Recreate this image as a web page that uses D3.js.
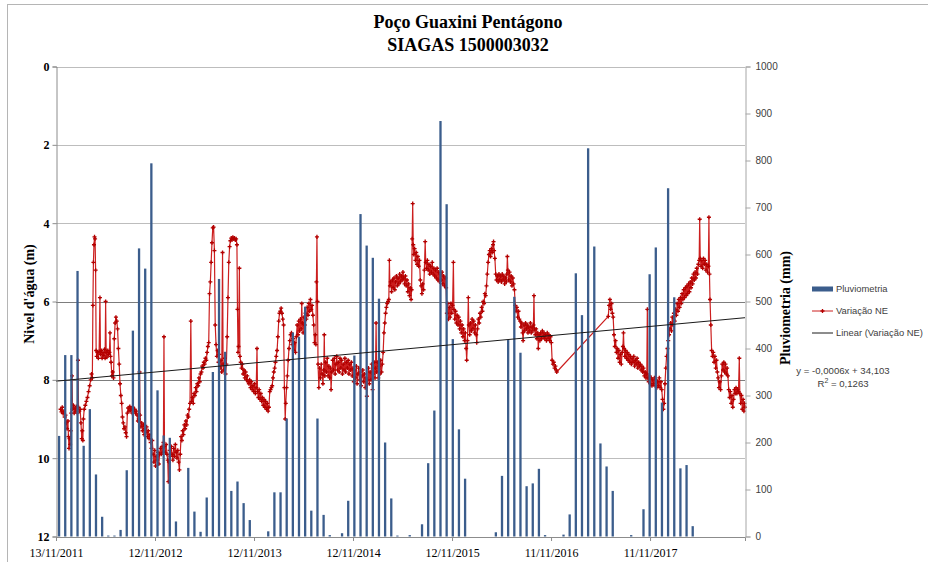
<!DOCTYPE html>
<html>
<head>
<meta charset="utf-8">
<script src="https://cdn.jsdelivr.net/npm/d3@7"></script>
<style>
  body { margin: 0; background: #fff; }
  svg { display: block; }
</style>
</head>
<body>
<svg id="chart" width="928" height="562"></svg>
<script>
// ---- Chart texts ----
const titleLines = ["Poço Guaxini Pentágono", "SIAGAS 1500003032"];
const leftAxisTitle = "Nivel d'água (m)";
const rightAxisTitle = "Pluviometria (mm)";
const legendLabels = ["Pluviometria", "Variação NE", "Linear (Variação NE)"];

// ---- Axis ticks ----
const startDateLabel = "13/11/2011";
const dateTickLabels = ["13/11/2011", "12/11/2012", "12/11/2013", "12/11/2014",
                        "12/11/2015", "11/11/2016", "11/11/2017"];
const spanDays = 2540;                      // length of the time axis in days
const levelTicks = [0, 2, 4, 6, 8, 10, 12];   // m (reversed axis)
const rainTicks = [0, 100, 200, 300, 400, 500, 600, 700, 800, 900, 1000];

// ---- Pluviometria (mm), one bar per slot ----
const rainSlots = 112;
const pluviometria = [
  214, 386, 386, 565, 193, 271, 132, 42, 2, 2,
  14, 141, 438, 613, 570, 794, 311, 215, 210, 32,
  0, 146, 53, 10, 83, 350, 548, 393, 97, 117,
  71, 35, 0, 0, 11, 94, 94, 251, 434, 425,
  489, 55, 251, 46, 3, 0, 7, 76, 385, 686,
  619, 593, 506, 200, 81, 2, 0, 3, 0, 26,
  156, 268, 884, 707, 420, 228, 123, 0, 0, 0,
  0, 9, 129, 418, 510, 391, 107, 113, 144, 3,
  0, 0, 4, 47, 560, 471, 826, 617, 198, 149,
  97, 0, 0, 3, 0, 58, 558, 615, 285, 741,
  509, 145, 152, 22
];

// ---- Variação NE: [days after 13/11/2011, water level (m)] ----
const nivel = [
  [17,8.75],[20,8.82],[23,8.70],[26,8.86],[29,8.80],[32,8.95],[35,8.90],[38,9.10],[41,9.25],[44,9.05],
  [46,9.45],[48,9.75],[50,9.50],[52,9.65],[54,9.30],[56,8.85],[59,7.90],[61,8.75],[64,8.65],[67,8.85],
  [70,8.72],[73,8.80],[76,8.68],[79,8.85],[81,7.50],[83,8.70],[86,8.80],[89,8.75],[92,9.10],[95,9.50],
  [97,9.30],[99,9.55],[101,9.00],[104,8.75],[108,8.65],[112,8.55],[116,8.45],[120,8.30],[124,8.15],[128,8.00],
  [131,7.85],[134,7.95],[136,6.10],[138,5.00],[140,4.55],[142,4.35],[144,4.40],[146,5.20],[148,7.25],
  [150,7.40],[153,7.30],[156,7.45],[159,7.28],[162,5.90],[164,7.35],[167,7.25],[170,7.45],[173,7.30],[176,7.38],
  [179,7.22],[181,7.45],[183,6.00],[185,7.30],[188,7.42],[191,7.25],[194,7.35],[197,7.30],[199,6.80],[201,7.40],
  [203,7.55],[206,7.90],[209,7.80],[212,7.95],[215,6.95],[218,6.55],[221,6.40],[224,6.50],[227,6.70],[230,7.20],
  [233,7.60],[236,8.10],[239,8.40],[242,8.60],[245,8.95],[248,9.10],[251,9.25],[254,9.20],[257,9.35],[260,9.45],
  [263,8.85],[266,8.72],[269,8.80],[272,8.68],[275,8.78],[278,8.72],[281,8.85],[284,8.70],[287,8.80],[290,8.75],
  [293,8.85],[296,8.80],[299,8.90],[302,9.05],
  [305,9.00],[308,7.80],[310,8.90],[313,9.20],[316,9.10],[319,9.30],[322,9.15],[325,9.40],[328,9.25],[331,9.35],
  [334,9.20],[337,9.45],[340,9.30],[343,9.50],[346,9.40],[349,9.60],[352,9.75],[355,9.55],[358,9.90],[361,10.10],
  [364,9.80],[367,10.20],[370,9.95],[373,10.05],[376,9.85],[379,10.15],[382,9.90],[385,9.75],[388,9.90],[391,9.70],
  [394,9.85],[396,9.60],[398,6.90],[400,9.70],[403,9.85],[406,9.65],[409,9.90],[412,10.05],[414,10.60],[416,10.10],
  [419,9.80],[422,9.95],[425,9.70],[428,9.90],[431,10.05],[434,9.75],[437,9.95],[440,9.65],[443,9.85],[446,10.00],
  [449,9.80],[452,10.10],[455,10.30],[458,9.90],[461,9.45],[464,9.55],[467,9.30],[470,9.40],[473,9.15],[476,9.25],
  [479,9.05],[482,9.15],[485,8.90],[488,8.95],[491,8.75],[494,8.60],[497,6.50],[500,8.55],
  [503,8.45],[506,8.60],[509,8.35],[512,8.40],[515,8.20],[518,8.30],[521,8.10],[524,8.15],[527,7.95],[530,8.05],
  [533,7.85],[536,7.80],[539,7.65],[542,7.70],[545,7.55],[548,7.60],[551,7.45],[554,7.50],[557,7.30],[560,7.15],
  [563,7.05],[566,5.80],[569,5.50],[572,5.00],[575,4.50],[578,4.12],[581,4.10],[584,4.70],[587,6.60],
  [590,7.10],[593,7.40],[596,7.25],[599,7.55],[602,7.35],[605,7.70],[608,7.50],[611,7.80],[614,4.75],[616,7.60],
  [619,7.75],[622,7.45],[625,7.85],[628,7.60],[631,6.90],[634,5.90],[637,5.00],[640,4.60],[643,4.45],[646,4.38],
  [649,4.42],[652,4.36],[655,4.40],[658,4.38],[661,4.43],[664,4.40],[667,4.55],[669,6.20],[671,7.30],[673,7.15],
  [676,5.15],[678,7.40],
  [681,7.55],[684,7.70],[687,7.60],[690,7.85],[693,7.75],[696,7.95],[699,7.80],[702,8.00],[705,7.90],[708,8.05],
  [711,8.10],[714,8.00],[717,8.20],[720,8.05],[723,8.25],[726,8.15],[729,8.30],[732,8.10],[735,8.35],[738,8.20],
  [741,7.20],[743,8.30],[746,8.45],[749,8.25],[752,8.50],[755,8.35],[758,8.55],[761,8.45],[764,8.65],[767,8.50],
  [770,8.70],[773,8.55],[776,8.75],[779,8.60],[782,8.80],[785,8.70],[788,8.30],[791,8.25],[794,8.20],[797,8.15],
  [800,7.95],[803,7.80],[806,7.70],[809,7.55],[812,7.40],[815,7.25],[818,6.90],[821,6.50],[824,6.30],[827,6.25],
  [830,6.17],[833,6.30],[836,6.45],[839,6.60],[842,8.20],[845,9.00],[847,8.60],[850,8.20],[853,7.90],[856,7.50],
  [859,7.20],[862,7.00],[865,6.85],[868,6.80],
  [871,7.10],[874,6.95],[877,7.25],[880,7.05],[883,7.30],[886,6.90],[889,6.60],[892,6.85],[895,6.50],[898,6.75],
  [901,6.45],[904,6.70],[906,6.05],[908,6.55],[911,6.80],[914,6.40],[917,6.60],[920,6.30],[923,6.45],[926,6.15],
  [929,6.35],[932,6.05],[935,6.25],[938,5.95],[941,6.20],[944,6.10],[947,6.35],[950,6.60],[953,7.05],[956,6.85],
  [958,7.10],[960,5.50],[962,4.35],[964,6.00],[966,7.60],
  [969,8.20],[972,7.70],[975,7.95],[978,7.60],[981,7.85],[984,8.10],[987,7.75],[989,6.85],[991,7.90],[994,7.55],
  [997,7.80],[1000,7.45],[1003,7.90],[1006,7.65],[1009,7.95],[1012,7.70],[1014,8.25],[1017,7.80],[1020,7.50],[1023,7.75],
  [1026,7.45],[1029,7.85],[1032,7.60],[1035,7.40],[1038,7.75],[1041,7.55],[1044,7.80],[1047,7.45],[1050,7.70],[1053,7.50],
  [1056,7.85],[1059,7.60],[1062,7.75],[1065,7.45],[1068,7.80],[1071,7.55],[1074,7.70],[1077,7.50],[1080,7.85],[1083,7.60],
  [1086,7.75],[1089,7.55],[1092,7.90],[1095,7.70],[1098,8.05],[1101,7.75],[1104,7.95],[1107,7.65],[1110,8.10],[1113,7.85],
  [1116,7.70],[1119,8.00],[1122,7.80],[1125,8.15],[1128,7.90],[1131,7.75],[1134,8.05],[1137,7.85],[1140,8.20],[1143,7.95],
  [1146,8.42],[1149,8.00],[1152,7.70],[1155,8.10],[1158,7.80],[1161,8.00],[1164,7.60],[1167,8.25],[1170,7.85],[1173,7.55],
  [1176,7.95],[1178,7.70],[1180,6.55],[1182,7.80],[1185,7.55],[1188,7.95],[1191,7.65],[1194,7.85],[1197,7.50],[1200,7.80],
  [1203,7.60],[1206,7.30],[1209,6.80],[1212,6.55],[1215,6.30],[1218,6.15],[1221,6.05],[1224,6.00],[1227,5.95],[1229,4.95],
  [1231,5.60],
  [1234,5.50],[1237,5.75],[1240,5.45],[1243,5.65],[1246,5.40],[1249,5.70],[1252,5.50],[1255,5.35],[1258,5.60],[1261,5.40],
  [1264,5.55],[1267,5.30],[1270,5.50],[1273,5.35],[1276,5.45],[1279,5.25],[1282,5.40],[1285,5.55],[1288,5.35],[1291,5.60],
  [1294,5.45],[1297,5.75],[1300,5.55],[1303,5.85],[1306,5.65],[1309,5.95],[1311,5.70],[1313,4.40],[1315,3.50],[1317,4.55],
  [1319,4.80],[1322,4.65],[1325,4.95],[1328,4.75],[1331,5.05],[1334,4.85],[1337,5.10],[1340,4.95],[1343,5.45],[1346,5.60],
  [1349,5.80],[1352,5.55],[1355,5.70],[1358,5.20],[1361,4.47],[1363,5.00],[1366,5.15],[1369,4.95],[1372,5.20],[1375,5.05],
  [1378,5.30],[1381,5.10],[1384,5.25],[1387,5.00],[1390,5.30],[1393,5.15],[1396,5.35],[1399,5.20],[1402,5.40],[1405,5.15],
  [1408,5.45],[1411,5.25],[1414,5.50],[1417,5.30],[1420,5.45],[1423,5.25],[1426,5.55],[1429,5.35],[1432,5.60],[1435,5.40],
  [1438,5.65],[1441,6.30],[1444,6.05],[1447,6.45],
  [1450,6.15],[1453,6.40],[1456,6.05],[1459,6.30],[1462,6.10],[1465,5.00],[1467,6.20],[1470,6.45],[1473,6.25],[1476,6.55],
  [1479,6.35],[1482,6.60],[1485,6.40],[1488,6.70],[1491,6.50],[1494,6.80],[1497,6.60],[1500,6.90],[1503,6.70],[1506,7.00],
  [1509,6.80],[1512,7.20],[1514,7.50],[1517,7.00],[1520,5.90],[1522,6.60],[1525,6.85],[1528,6.55],[1531,6.75],[1534,6.45],
  [1537,6.70],[1540,6.50],[1543,6.80],[1546,6.60],[1549,6.85],[1551,7.05],[1554,6.70],[1557,6.45],[1560,6.55],[1563,6.30],
  [1566,6.40],[1569,6.15],[1572,6.25],[1575,6.00],[1578,6.05],[1581,5.80],[1584,5.85],[1587,5.60],[1590,5.30],[1593,5.00],
  [1596,4.80],[1599,4.70],[1602,4.85],[1605,4.65],[1608,4.75],[1611,4.55],[1613,4.47],[1615,4.70],[1618,4.90],[1621,5.30],
  [1624,5.45],[1627,5.35],[1630,5.50],[1633,5.30],[1636,5.45],[1639,5.35],[1642,5.50],[1645,5.30],[1648,5.45],[1651,5.35],
  [1654,5.55],[1657,5.40],[1660,5.50],[1662,5.30],[1664,4.85],[1666,5.20],[1669,5.45],[1672,5.25],[1675,5.50],[1678,5.35],
  [1681,5.60],[1684,5.40],[1687,5.55],[1690,5.70],[1693,6.10],[1696,6.25],[1699,6.15],[1702,6.40],[1705,6.25],[1708,6.45],
  [1711,6.50],[1714,6.65],[1717,6.55],[1720,6.80],[1722,7.00],[1725,6.60],[1728,6.75],[1731,6.55],[1734,6.70],[1737,6.60],
  [1740,6.80],[1743,6.65],[1746,6.75],[1749,6.55],[1752,6.80],[1755,6.65],[1758,6.75],[1760,6.60],[1762,5.85],[1764,6.70],
  [1767,6.85],[1770,6.70],[1773,6.95],[1776,6.80],[1778,7.20],[1781,6.85],[1784,7.00],[1787,6.80],[1790,6.95],[1793,6.75],
  [1796,6.90],[1799,6.80],[1802,6.95],[1805,6.85],[1808,7.00],[1811,6.80],[1814,6.95],[1817,6.85],[1820,7.00],[1823,6.90],
  [1826,7.05],[1829,7.50],[1832,7.60],[1835,7.55],[1838,7.70],[1841,7.65],[1844,7.75],[1846,7.80],
  [2036,6.38],[2039,6.10],[2042,5.95],[2045,6.20],[2048,6.05],[2051,6.30],[2054,6.40],[2057,6.85],[2060,7.15],[2063,7.00],
  [2066,7.30],[2069,7.20],[2072,7.45],[2075,7.25],[2078,7.55],[2081,7.35],[2084,7.60],[2087,7.30],[2090,7.15],[2092,6.80],
  [2094,7.20],[2097,7.40],[2100,7.25],[2103,7.45],[2106,7.30],[2109,7.50],[2112,7.35],[2115,7.55],[2118,7.40],[2121,7.60],
  [2124,7.45],[2127,7.55],[2130,7.40],[2133,7.65],[2136,7.50],[2139,7.60],[2142,7.45],[2145,7.70],[2148,7.55],[2151,7.65],
  [2154,7.60],[2157,7.75],[2160,7.65],[2163,7.80],[2166,7.70],[2169,7.90],[2172,7.80],[2175,7.95],[2178,7.85],[2180,6.20],
  [2182,7.95],[2185,8.05],[2188,7.90],[2191,8.10],[2194,7.95],[2197,8.15],[2200,8.00],[2203,8.10],[2206,7.95],[2209,8.15],
  [2212,8.00],[2215,8.20],[2218,8.05],[2221,8.15],[2224,7.95],[2227,8.20],[2230,8.05],[2233,8.25],[2236,8.50],[2239,8.75],
  [2242,8.60],[2245,8.10],[2248,7.70],[2251,7.40],[2254,7.20],[2257,7.00],[2260,6.85],[2263,6.70],[2266,6.55],[2269,6.75],
  [2272,6.40],[2275,6.60],[2278,6.30],[2281,6.50],[2284,6.20],[2287,6.35],[2290,6.05],[2293,6.25],[2296,5.95],[2299,6.15],
  [2302,5.90],[2305,6.05],[2308,5.80],[2311,5.95],[2314,5.70],[2317,5.90],[2320,5.65],[2323,5.85],[2326,5.60],[2329,5.80],
  [2332,5.55],[2335,5.75],[2338,5.50],[2341,5.65],[2344,5.40],[2347,5.55],[2350,5.30],[2353,5.45],[2356,5.25],[2359,5.40],
  [2362,5.15],[2365,5.30],[2368,5.05],[2371,4.95],[2373,3.90],[2375,4.90],[2378,5.10],[2381,4.95],[2384,5.15],[2387,4.90],
  [2390,5.05],[2393,4.95],[2396,5.20],[2399,5.05],[2402,5.25],[2405,5.10],[2407,3.85],[2409,5.30],[2411,5.95],[2414,6.60],
  [2417,7.25],[2420,7.40],[2423,7.30],[2426,7.55],[2429,7.40],[2432,7.70],[2435,7.50],[2438,7.80],[2441,7.95],[2444,8.20],
  [2447,8.05],[2450,8.25],[2453,7.90],[2456,7.60],[2459,7.75],[2462,7.55],[2465,7.80],[2468,7.60],[2471,7.85],[2474,7.70],
  [2477,7.90],[2480,8.25],[2483,8.45],[2486,8.30],[2489,8.60],[2492,8.40],[2495,8.70],[2498,8.50],[2501,8.25],[2504,8.35],
  [2507,8.20],[2510,8.35],[2513,8.25],[2516,8.30],[2519,7.45],[2521,8.35],[2524,8.60],[2527,8.40],[2530,8.75],[2533,8.50],
  [2536,8.80],[2538,8.60],[2540,8.70]
];

// ---- Linear trend of Variação NE (x = spreadsheet date serial) ----
const trendSlope = -0.000638;
const trendIntercept = 34.103;
const trendR2 = 0.1263;
const serialOfStart = 40860;   // serial number of 13/11/2011

// ---- Layout ----
const W = 928, H = 562;
const plot = { left: 56, right: 745, top: 66.5, bottom: 536.5 };
const colors = {
  bar: "#3b5d8c",
  line: "#cc1f1f",
  marker: "#b30000",
  trend: "#1a1a1a",
  gridLight: "#bdbdbd",
  gridDark: "#7d7d7d",
  axis: "#8c8c8c",
  text: "#000",
  sideText: "#404040"
};
const serif = "'Liberation Serif', 'Times New Roman', serif";
const sans = "'Liberation Sans', Arial, sans-serif";

const parseDate = d3.timeParse("%d/%m/%Y");
const startDate = parseDate(startDateLabel);
const dayToDate = d => d3.timeDay.offset(startDate, d);

const svg = d3.select("#chart");
svg.append("rect").attr("width", W).attr("height", H).attr("fill", "#fff");

// chart-area frame (only top and left edges fall inside the view)
svg.append("rect")
  .attr("x", 7.5).attr("y", 4.5).attr("width", 940).attr("height", 580)
  .attr("fill", "none").attr("stroke", "#b5b5b5");

// ---- Scales ----
const x = d3.scaleTime()
  .domain([startDate, dayToDate(spanDays)])
  .range([plot.left, plot.right]);
const yLevel = d3.scaleLinear().domain([0, 12]).range([plot.top, plot.bottom]);
const yRain = d3.scaleLinear().domain([0, 1000]).range([plot.bottom, plot.top]);
const slot = d3.scaleBand().domain(d3.range(rainSlots)).range([plot.left, plot.right]);

// ---- Gridlines ----
svg.append("g")
  .selectAll("line")
  .data(levelTicks)
  .join("line")
  .attr("x1", plot.left).attr("x2", plot.right)
  .attr("y1", d => Math.round(yLevel(d)) + 0.5)
  .attr("y2", d => Math.round(yLevel(d)) + 0.5)
  .attr("stroke", d => (d === 6 || d === 8) ? colors.gridDark : colors.gridLight)
  .attr("stroke-width", 1);

// ---- Variação NE line + markers ----
const lineGen = d3.line()
  .x(d => x(dayToDate(d[0])))
  .y(d => yLevel(d[1]));

svg.append("path")
  .datum(nivel)
  .attr("d", lineGen)
  .attr("fill", "none")
  .attr("stroke", colors.line)
  .attr("stroke-width", 1.2)
  .attr("stroke-linejoin", "round");

svg.append("g")
  .selectAll("path")
  .data(nivel)
  .join("path")
  .attr("transform", d => `translate(${x(dayToDate(d[0]))},${yLevel(d[1])})`)
  .attr("d", d3.symbol(d3.symbolCross, 9)())
  .attr("fill", colors.marker);

// ---- Pluviometria bars ----
const barW = 2.3;
svg.append("g")
  .selectAll("rect")
  .data(pluviometria.map((v, i) => ({ i, v })).filter(d => d.v > 0))
  .join("rect")
  .attr("x", d => slot(d.i) + slot.bandwidth() / 2 - barW / 2)
  .attr("width", barW)
  .attr("y", d => yRain(d.v))
  .attr("height", d => yRain(0) - yRain(d.v))
  .attr("fill", colors.bar);

// ---- Linear trend ----
const trendAt = day => trendIntercept + trendSlope * (serialOfStart + day);
svg.append("line")
  .attr("x1", x(dayToDate(0))).attr("y1", yLevel(trendAt(0)))
  .attr("x2", x(dayToDate(spanDays))).attr("y2", yLevel(trendAt(spanDays)))
  .attr("stroke", colors.trend)
  .attr("stroke-width", 1);

// ---- Axes ----
// left: water level (reversed)
const axL = svg.append("g")
  .attr("transform", `translate(${plot.left + 0.5},0)`)
  .call(d3.axisLeft(yLevel).tickValues(levelTicks).tickSize(4).tickPadding(3).tickFormat(d3.format("d")));
axL.select(".domain").attr("stroke", colors.axis);
axL.selectAll(".tick line").attr("stroke", colors.axis);
axL.selectAll(".tick text")
  .attr("font-family", serif).attr("font-weight", "bold").attr("font-size", 12)
  .attr("fill", colors.text);

// right: rainfall
const axR = svg.append("g")
  .attr("transform", `translate(${plot.right + 0.5},0)`)
  .call(d3.axisRight(yRain).tickValues(rainTicks).tickSize(5).tickPadding(5).tickFormat(d3.format("d")));
axR.select(".domain").attr("stroke", "#a6a6a6");
axR.selectAll(".tick line").attr("stroke", "#a6a6a6");
axR.selectAll(".tick text")
  .attr("font-family", sans).attr("font-size", 10)
  .attr("fill", colors.sideText);

// bottom: dates, one tick every 365 days
const dateTicks = dateTickLabels.map(parseDate);
const axB = svg.append("g")
  .attr("transform", `translate(0,${plot.bottom + 0.5})`)
  .call(d3.axisBottom(x).tickValues(dateTicks).tickSize(4).tickPadding(7)
    .tickFormat((d, i) => dateTickLabels[i]));
axB.select(".domain").attr("stroke", colors.axis);
axB.selectAll(".tick line").attr("stroke", colors.axis);
axB.selectAll(".tick text")
  .attr("font-family", serif).attr("font-size", 12)
  .attr("fill", colors.text);

// ---- Titles ----
svg.append("g")
  .selectAll("text")
  .data(titleLines)
  .join("text")
  .attr("x", 468)
  .attr("y", (d, i) => 28 + i * 23)
  .attr("text-anchor", "middle")
  .attr("font-family", serif).attr("font-weight", "bold").attr("font-size", 18)
  .attr("fill", colors.text)
  .text(d => d);

svg.append("text")
  .attr("transform", "translate(34,294) rotate(-90)")
  .attr("text-anchor", "middle")
  .attr("font-family", serif).attr("font-weight", "bold").attr("font-size", 14)
  .text(leftAxisTitle);

svg.append("text")
  .attr("transform", "translate(790,308) rotate(-90)")
  .attr("text-anchor", "middle")
  .attr("font-family", serif).attr("font-weight", "bold").attr("font-size", 14)
  .text(rightAxisTitle);

// ---- Legend ----
const legend = svg.append("g").attr("font-family", sans).attr("font-size", 9.4).attr("fill", colors.sideText);
const legY = [289, 311, 333];
const swX0 = 812, swX1 = 833, txtX = 836;

legend.append("rect")
  .attr("x", swX0).attr("y", legY[0] - 2.5).attr("width", swX1 - swX0).attr("height", 5)
  .attr("fill", colors.bar);
legend.append("line")
  .attr("x1", swX0).attr("x2", swX1).attr("y1", legY[1]).attr("y2", legY[1])
  .attr("stroke", colors.line).attr("stroke-width", 1);
legend.append("path")
  .attr("transform", `translate(${(swX0 + swX1) / 2},${legY[1]})`)
  .attr("d", d3.symbol(d3.symbolCross, 9)())
  .attr("fill", colors.marker);
legend.append("line")
  .attr("x1", swX0).attr("x2", swX1).attr("y1", legY[2]).attr("y2", legY[2])
  .attr("stroke", colors.trend).attr("stroke-width", 1);

legend.selectAll("text.lab")
  .data(legendLabels)
  .join("text")
  .attr("class", "lab")
  .attr("x", txtX)
  .attr("y", (d, i) => legY[i])
  .attr("dy", "0.35em")
  .text(d => d);

// ---- Trend equation ----
const fmtComma = (v, n) => v.toFixed(n).replace(".", ",");
const eqText = `y = ${fmtComma(trendSlope, 4)}x + ${fmtComma(trendIntercept, 3)}`;
svg.append("text")
  .attr("x", 843).attr("y", 374)
  .attr("text-anchor", "middle")
  .attr("font-family", sans).attr("font-size", 9.6).attr("fill", colors.sideText)
  .text(eqText);
const r2Text = svg.append("text")
  .attr("x", 843).attr("y", 387)
  .attr("text-anchor", "middle")
  .attr("font-family", sans).attr("font-size", 9.6).attr("fill", colors.sideText);
r2Text.append("tspan").text("R");
r2Text.append("tspan").attr("font-size", 7).attr("dy", -4).text("2");
r2Text.append("tspan").attr("dy", 4).text(` = ${fmtComma(trendR2, 4)}`);
</script>
</body>
</html>
